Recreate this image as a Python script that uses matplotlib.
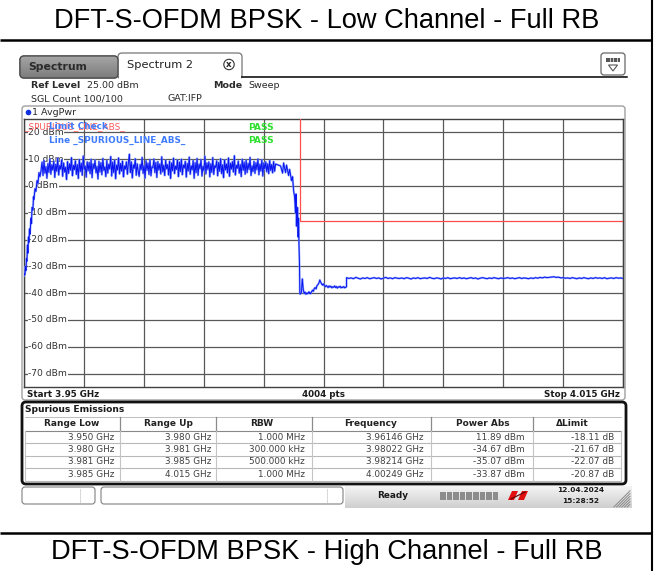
import numpy as np
import matplotlib
matplotlib.use("Agg")
import matplotlib.pyplot as plt
from matplotlib.patches import FancyBboxPatch, Rectangle, Circle, Polygon
from matplotlib.colors import LinearSegmentedColormap

# ------------------------------------------------------------------ data
title_top = "DFT-S-OFDM BPSK - Low Channel - Full RB"
title_bottom = "DFT-S-OFDM BPSK - High Channel - Full RB"

f_start, f_stop = 3.95, 4.015          # GHz
ref_level, y_bottom = 25.0, -75.0      # dBm
y_grid = [20, 10, 0, -10, -20, -30, -40, -50, -60, -70]
n_points = 4004

# rising edge of the carrier
rise_freq = [3.95000, 3.95005, 3.95011, 3.95016, 3.95022, 3.95027, 3.95032,
             3.95038, 3.95043, 3.95049, 3.95054, 3.95060, 3.95065, 3.95076,
             3.95081, 3.95087, 3.95097, 3.95103, 3.95108, 3.95119, 3.95130,
             3.95141, 3.95152, 3.95162, 3.95173]
rise_dbm = [-33.5, -32.8, -33.0, -30.0, -31.5, -27.0, -28.0, -22.0, -25.0,
            -19.0, -21.0, -16.0, -18.0, -12.0, -14.0, -8.0, -9.0, -4.0, -5.0,
            -1.0, -2.0, 2.0, 1.0, 5.0, 3.5]

# in-band plateau (evenly swept)
plateau_range = (3.95185, 3.97730)
plateau_dbm = [
    5.8, 8.9, 3.9, 9.6, 4.8, 7.2, 2.9, 8.4, 5.1, 10.1,
    4.4, 7.9, 6.0, 9.3, 3.2, 8.1, 5.5, 10.4, 4.1, 7.6,
    6.3, 9.8, 3.6, 8.6, 5.2, 7.0, 2.4, 9.1, 4.7, 8.3,
    5.9, 10.6, 3.8, 7.7, 6.1, 9.4, 4.3, 8.0, 2.8, 9.9,
    5.4, 8.5, 4.0, 11.2, 6.2, 7.4, 3.3, 9.0, 5.7, 8.8,
    4.6, 10.0, 3.1, 8.2, 6.5, 9.7, 4.9, 7.3, 2.6, 9.2,
    5.3, 8.7, 4.2, 10.3, 5.8, 7.1, 3.5, 9.5, 4.8, 8.1,
    6.4, 11.0, 3.7, 8.9, 5.0, 9.6, 2.7, 7.8, 6.0, 10.5,
    4.5, 8.4, 5.6, 9.3, 3.4, 7.5, 6.3, 9.0, 4.4, 8.6,
    11.89, 5.0, 9.0, 3.0, 7.9, 6.6, 10.2, 4.0, 8.3, 5.5,
    3.6, 8.0, 6.1, 10.7, 4.7, 7.6, 2.9, 9.4, 5.9, 8.5,
    4.3, 9.9, 3.8, 7.2, 6.8, 10.1, 5.0, 8.8, 3.2, 9.1,
    6.0, 8.2, 4.5, 10.9, 5.3, 7.7, 3.9, 9.6, 6.4, 8.0,
    4.1, 9.3, 2.8, 8.6, 5.7, 10.4, 4.6, 7.4, 6.2, 9.7,
    3.5, 8.9, 5.4, 10.0, 4.2, 7.8, 6.7, 9.2, 3.3, 8.4,
    5.6, 10.8, 4.4, 7.5, 6.1, 9.5, 2.9, 8.7, 5.0, 10.3,
    4.0, 8.1, 6.5, 9.9, 3.7, 7.3, 5.8, 11.1, 4.5, 8.6,
    6.2, 9.0, 3.4, 8.3, 5.1, 10.6, 4.3, 7.6, 6.9, 9.4,
    3.8, 8.8, 5.5, 10.2, 4.6, 7.9, 3.1, 9.7, 6.0, 8.2,
    4.9, 10.5, 3.6, 8.5, 6.3, 9.1, 5.2, 11.3, 4.1, 7.7,
    6.6, 9.3, 4.8, 8.0, 3.5, 10.0, 5.9, 8.9, 4.4, 9.6,
    5.0, 8.4, 6.2, 10.7, 3.9, 7.5, 5.4, 9.2, 4.7, 8.7,
    6.1, 10.1, 4.2, 8.1, 5.6, 9.8, 3.7, 8.6, 6.4, 9.0,
    5.3, 8.3, 4.6, 9.5, 5.8, 8.0, 4.9, 9.1, 5.5, 8.2]

# upper band edge roll-off
rolloff_freq = [3.97784, 3.97806, 3.97817, 3.97838, 3.97849, 3.97871, 3.97882,
                3.97903, 3.97914, 3.97925, 3.97936, 3.97947, 3.97952, 3.97957,
                3.97968, 3.97974, 3.97979, 3.97984, 3.97990, 3.97993]
rolloff_dbm = [7.5, 4.8, 8.6, 5.0, 7.8, 3.9, 6.2, 2.0, 3.5, -1.5, -4.0, -10.0,
               -3.0, -15.0, -8.0, -19.0, -12.0, -22.0, -30.0, -40.2]

# spurious ranges
low1_range = (3.9800, 3.9810)
low1_dbm = [-40.3, -39.8, -34.67, -38.5, -40.1, -39.6, -40.4, -39.9, -40.2,
            -39.5, -40.0]
low2_range = (3.9810, 3.9850)
low2_dbm = [-39.8, -40.2, -39.5, -38.9, -39.3, -38.2, -37.9, -38.4, -37.1,
            -36.8, -36.2, -35.07, -35.9, -36.6, -37.0, -36.5, -37.2, -37.6,
            -37.1, -37.5, -37.9, -37.3, -37.7, -37.4, -38.0, -37.6, -37.8,
            -37.3, -37.9, -37.5, -38.1, -37.6, -37.8, -37.4, -38.0, -37.7,
            -37.9, -37.5, -38.0, -37.8, -37.6]
high_range = (3.9850, 4.0150)
high_dbm = [
    -34.2, -34.5, -34.3, -34.6, -34.1, -34.4, -34.7, -34.3, -34.5, -34.2,
    -34.6, -34.4, -34.2, -34.5, -34.3, -34.7, -34.4, -34.1, -34.5, -34.3,
    -34.6, -34.2, -34.4, -34.5, -34.3, -34.6, -34.2, -34.4, -34.7, -34.3,
    -34.5, -34.2, -34.6, -34.4, -34.3, -34.5, -34.1, -34.4, -34.6, -34.3,
    -34.4, -34.7, -34.3, -34.5, -34.2, -34.6, -34.4, -34.3, -34.5, -34.2,
    -34.5, -34.3, -34.6, -34.4, -34.2, -34.5, -34.3, -34.7, -34.4, -34.2,
    -34.4, -34.6, -34.3, -34.5, -34.2, -34.4, -34.6, -34.3, -34.5, -34.4,
    -34.2, -34.5, -34.3, -34.6, -34.4, -34.2, -34.5, -34.3, -34.4, -34.6,
    -34.3, -34.5, -34.2, -34.4, -34.1, -34.3, -34.0, -34.2, -34.1, -34.0,
    -33.87, -34.1, -34.0, -34.3, -34.2, -34.4, -34.3, -34.5, -34.2, -34.4,
    -34.6, -34.3, -34.5, -34.2, -34.4, -34.6, -34.3, -34.5, -34.2, -34.4,
    -34.3, -34.5, -34.2, -34.6, -34.4, -34.3, -34.5, -34.2, -34.4, -34.3,
    -34.5]

# limit line
limit_freq = [3.950, 3.980, 3.980, 4.015]
limit_dbm = [30.0, 30.0, -13.0, -13.0]

# result table
range_low = [3.950, 3.980, 3.981, 3.985]
range_up = [3.980, 3.981, 3.985, 4.015]
rbw_text = ["1.000 MHz", "300.000 kHz", "500.000 kHz", "1.000 MHz"]
peak_freq = [3.96146, 3.98022, 3.98214, 4.00249]
power_abs = [11.89, -34.67, -35.07, -33.87]
delta_limit = [-18.11, -21.67, -22.07, -20.87]
table_headers = ["Range Low", "Range Up", "RBW", "Frequency", "Power Abs",
                 "\u0394Limit"]

# ------------------------------------------------------------------ figure
UI = "DejaVu Sans"
fig = plt.figure(figsize=(6.56, 5.71), dpi=100)
bg = fig.add_axes([0, 0, 1, 1])
bg.set_xlim(0, 656)
bg.set_ylim(571, 0)
bg.axis("off")


def txt(x, y, s, size=6.8, weight="normal", color="#2a2a2a", ha="left",
        va="center", family=UI, ax=None, **kw):
    a = ax if ax is not None else bg
    extra = {} if ax is None else {"transform": bg.transData}
    return a.text(x, y, s, fontsize=size, fontweight=weight, color=color,
                  ha=ha, va=va, family=family, **extra, **kw)


def grad(x0, x1, y0, y1, c_top, c_bot, clip=None, z=1):
    cm = LinearSegmentedColormap.from_list("g", [c_top, c_bot])
    im = bg.imshow(np.linspace(0, 1, 40).reshape(-1, 1), cmap=cm,
                   extent=(x0, x1, y1, y0), aspect="auto", zorder=z,
                   interpolation="bilinear")
    if clip is not None:
        im.set_clip_path(clip)
    return im


# outer document table
bg.plot([0, 652], [40, 40], color="black", lw=1.8, solid_capstyle="butt")
bg.plot([0, 652], [533, 533], color="black", lw=1.8, solid_capstyle="butt")
bg.plot([652, 652], [0, 571], color="black", lw=1.5)
txt(327, 20.5, title_top, size=19.6, color="black", ha="center",
    family="Liberation Sans")
txt(327, 552, title_bottom, size=19.6, color="black", ha="center",
    family="Liberation Sans")

# tabs
tab1 = FancyBboxPatch((20, 56), 98, 22, boxstyle="round,pad=0,rounding_size=4",
                      fc="#8e8e8e", ec="#4a4a4a", lw=0.9, zorder=2)
bg.add_patch(tab1)
grad(20, 118, 56, 78, "#a6a6a6", "#7c7c7c", clip=tab1, z=2.1)
bg.add_patch(FancyBboxPatch((20, 56), 98, 22,
                            boxstyle="round,pad=0,rounding_size=4",
                            fc="none", ec="#4a4a4a", lw=0.9, zorder=2.2))
txt(28, 67, "Spectrum", size=7.8, weight="bold", color="#2b2b2b", zorder=3)
tab2 = FancyBboxPatch((118, 53), 124, 26, boxstyle="round,pad=0,rounding_size=4",
                      fc="white", ec="#777777", lw=0.9, zorder=2)
bg.add_patch(tab2)
bg.add_patch(Rectangle((119, 75.5), 122, 5, fc="white", ec="none", zorder=2.3))
txt(127, 65, "Spectrum 2", size=8.2, color="#222222", zorder=3)
bg.add_patch(Circle((229, 64.5), 5.2, fc="white", ec="#333333", lw=0.8,
                    zorder=3))
txt(229, 64.7, "x", size=6.2, weight="bold", ha="center", color="#222222",
    zorder=4)
bg.plot([242, 627], [76.5, 76.5], color="black", lw=1.1, zorder=2)

# top-right icon
bg.add_patch(FancyBboxPatch((601, 53), 24, 22,
                            boxstyle="round,pad=0,rounding_size=3",
                            fc="white", ec="#666666", lw=0.9, zorder=2))
bg.add_patch(Rectangle((606, 58), 14, 4, fc="#555555", ec="none", zorder=3))
for xx in (609.5, 613, 616.5):
    bg.plot([xx, xx], [58, 62], color="white", lw=0.5, zorder=3.1)
bg.add_patch(Polygon([(608.5, 65), (617.5, 65), (613, 71)], closed=True,
                     fill=False, ec="#555555", lw=0.8, zorder=3))

# header info
txt(31, 85.5, "Ref Level", weight="bold")
txt(87, 85.5, "25.00 dBm")
txt(213, 85.5, "Mode", weight="bold")
txt(248, 85.5, "Sweep")
txt(31, 98.5, "SGL Count 100/100")
txt(168, 98.5, "GAT:IFP")

# diagram panel
bg.add_patch(FancyBboxPatch((22, 106), 603, 294,
                            boxstyle="round,pad=0,rounding_size=3",
                            fc="white", ec="#a0a0a0", lw=1.0, zorder=1))
bg.add_patch(Circle((28.5, 112.5), 2.8, fc="#1030e0", ec="none", zorder=3))
txt(32.5, 112.5, "1 AvgPwr", zorder=3)
txt(27, 394.5, "Start 3.95 GHz", size=6.3, weight="bold", color="#1a1a1a",
    zorder=3)
txt(323, 394.5, "4004 pts", size=6.3, weight="bold", color="#1a1a1a",
    ha="center", zorder=3)
txt(620, 394.5, "Stop 4.015 GHz", size=6.3, weight="bold", color="#1a1a1a",
    ha="right", zorder=3)

# ------------------------------------------------------------------ diagram
ax = fig.add_axes([24 / 656, 1 - 387 / 571, (623 - 24) / 656,
                   (387 - 119) / 571])
ax.set_xlim(f_start, f_stop)
ax.set_ylim(y_bottom, ref_level)
ax.set_xticks(np.linspace(f_start, f_stop, 11))
ax.set_yticks(y_grid)
ax.set_axisbelow(True)
ax.grid(True, color="#585858", lw=0.9)
ax.tick_params(length=0, labelleft=False, labelbottom=False)
for sp in ax.spines.values():
    sp.set_color("#404040")
    sp.set_linewidth(1.0)

for v in y_grid:
    ax.text(0.007, v, f"{v} dBm", transform=ax.get_yaxis_transform(),
            ha="left", va="center", fontsize=6.6, color="#333333",
            family=UI, zorder=2.5,
            bbox=dict(fc="white", ec="none", pad=0.3))

trace_f = np.concatenate([
    rise_freq,
    np.linspace(*plateau_range, len(plateau_dbm)),
    rolloff_freq,
    np.linspace(*low1_range, len(low1_dbm)),
    np.linspace(*low2_range, len(low2_dbm)),
    np.linspace(*high_range, len(high_dbm)),
])
trace_p = np.concatenate([rise_dbm, plateau_dbm, rolloff_dbm, low1_dbm,
                          low2_dbm, high_dbm])

ax.plot(limit_freq, limit_dbm, color="#ff4d4d", lw=0.9, zorder=2.8)
ax.plot(trace_f, trace_p, color="#7a96ff", lw=1.5, alpha=0.8, zorder=3)
ax.plot(trace_f, trace_p, color="#0a14f0", lw=0.7, zorder=3.1)

txt(24, 126.5, "_SPURIOUS_LINE_ABS_", size=6.4, color="#ff5a5a", ax=ax,
    zorder=4)
txt(49, 126.5, "Limit Check", size=6.4, weight="bold", color="#3f7bff", ax=ax,
    zorder=4.1)
txt(49, 140.5, "Line _SPURIOUS_LINE_ABS_", size=6.4, weight="bold",
    color="#3f7bff", ax=ax, zorder=4.1)
txt(248, 127, "PASS", size=6.6, weight="bold", color="#2ee02e", ax=ax,
    zorder=4)
txt(248, 140.5, "PASS", size=6.6, weight="bold", color="#2ee02e", ax=ax,
    zorder=4)

# ------------------------------------------------------------------ table
bg.add_patch(FancyBboxPatch((22, 402), 604, 82,
                            boxstyle="round,pad=0,rounding_size=4",
                            fc="white", ec="#111111", lw=2.0, zorder=1))
txt(25, 410, "Spurious Emissions", size=6.6, weight="bold", color="#1a1a1a",
    zorder=3)
col_edges = [25, 120, 216, 312, 431, 533, 621]
head_cx = [72, 168, 262, 371, 483, 572]
data_rx = [114, 211, 305, 424, 525, 614]
head_y = 423.5
row_y = [437, 449.5, 462, 474.5]
row_lines = [430.5, 443.2, 455.7, 468.2, 480.7]

bg.plot([25, 621], [416.5, 416.5], color="#bdbdbd", lw=0.7, zorder=2)
for x in col_edges[1:-1]:
    bg.plot([x, x], [417, 430], color="#8a8a8a", lw=0.9, zorder=2)
for y in row_lines:
    bg.plot([25, 621], [y, y], color="#b8b8b8" if y != row_lines[0]
            else "#888888", lw=0.8, zorder=2)
for x in col_edges:
    bg.plot([x, x], [row_lines[0], row_lines[-1]], color="#c4c4c4", lw=0.8,
            zorder=2)
for cx, h in zip(head_cx, table_headers):
    txt(cx, head_y, h, size=6.5, weight="bold", color="#222222", ha="center",
        zorder=3)

rows = []
for i in range(len(range_low)):
    rows.append([f"{range_low[i]:.3f} GHz", f"{range_up[i]:.3f} GHz",
                 rbw_text[i], f"{peak_freq[i]:.5f} GHz",
                 f"{power_abs[i]:.2f} dBm", f"{delta_limit[i]:.2f} dB"])
for y, r in zip(row_y, rows):
    for rx, s in zip(data_rx, r):
        txt(rx, y, s, size=6.4, color="#404040", ha="right", zorder=3)

# ------------------------------------------------------------------ status bar
grad(345, 632, 486, 508, "#f4f4f4", "#cfcfcf", z=1)
bg.add_patch(FancyBboxPatch((22, 487), 73, 17,
                            boxstyle="round,pad=0,rounding_size=3",
                            fc="white", ec="#808080", lw=0.8, zorder=2))
bg.plot([80, 80], [489, 502], color="#d8d8d8", lw=0.7, zorder=3)
bg.add_patch(FancyBboxPatch((101, 487), 242, 17,
                            boxstyle="round,pad=0,rounding_size=3",
                            fc="white", ec="#808080", lw=0.8, zorder=2))
bg.plot([327, 327], [489, 502], color="#d8d8d8", lw=0.7, zorder=3)
txt(393, 496, "Ready", size=6.4, weight="bold", color="#1a1a1a", ha="center",
    zorder=3)
for k in range(9):
    bg.add_patch(Rectangle((440 + k * 6.6, 491.5), 5.6, 8, fc="#8c8c8c",
                           ec="none", zorder=3))
bg.add_patch(Polygon([(508, 500), (512, 491), (518, 491), (514, 500)],
                     closed=True, fc="#e01010", ec="none", zorder=3))
bg.add_patch(Polygon([(518, 500), (522, 491), (528, 491), (524, 500)],
                     closed=True, fc="#e01010", ec="none", zorder=3))
bg.plot([511, 525], [499, 492], color="#5a0000", lw=0.8, zorder=3.1)
txt(581, 490.5, "12.04.2024", size=5.3, weight="bold", color="#1a1a1a",
    ha="center", zorder=3)
txt(599, 501, "15:28:52", size=5.3, weight="bold", color="#1a1a1a",
    ha="right", zorder=3)
for k in range(6):
    d = 2.7 * (k + 1)
    bg.plot([630 - d, 630], [507, 507 - d], color="#8a8a8a", lw=0.7, zorder=3)

fig.savefig("out.png", dpi=100)
